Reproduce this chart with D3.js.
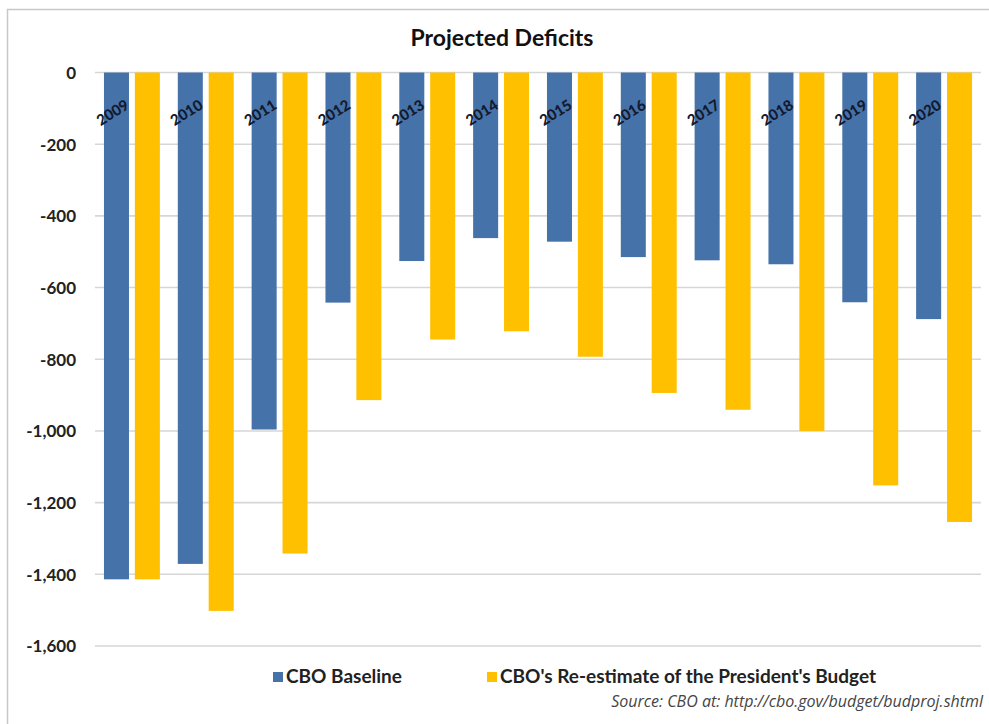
<!DOCTYPE html>
<html>
<head>
<meta charset="utf-8">
<script src="https://cdn.jsdelivr.net/npm/d3@7"></script>
<style>
  html, body { margin: 0; padding: 0; background: #ffffff; }
  svg { display: block; }
</style>
</head>
<body>
<svg id="chart" width="989" height="724"></svg>
<script>
// Fiscal years on the category axis
const years = ["2009", "2010", "2011", "2012", "2013", "2014", "2015", "2016", "2017", "2018", "2019", "2020"];
// Series names (legend order)
const seriesNames = ["CBO Baseline", "CBO's Re-estimate of the President's Budget"];
// Deficits, billions of dollars
const baseline = [-1414, -1371, -996, -642, -526, -462, -472, -515, -524, -535, -641, -688];
const reestimate = [-1414, -1502, -1342, -914, -745, -722, -793, -894, -941, -1000, -1152, -1254];
// Value axis ticks
const yTicks = [0, -200, -400, -600, -800, -1000, -1200, -1400, -1600];

const colors = ["#4672aa", "#ffc000"];
const values = [baseline, reestimate];

const svg = d3.select("#chart");
const font = "Lato, 'Open Sans', sans-serif";

// Outer frame
svg.append("line").attr("x1", 7).attr("x2", 989).attr("y1", 9.5).attr("y2", 9.5)
  .attr("stroke", "#c8c8c8").attr("stroke-width", 1.5);
svg.append("line").attr("x1", 7.5).attr("x2", 7.5).attr("y1", 9).attr("y2", 724)
  .attr("stroke", "#c8c8c8").attr("stroke-width", 1.5);

const plot = { left: 95, right: 981, top: 72.5, bottom: 646 };

const y = d3.scaleLinear().domain([0, -1600]).range([plot.top, plot.bottom]);
const x0 = d3.scaleBand().domain(years).range([plot.left, plot.right]).padding(0);
const x1 = d3.scaleBand().domain(seriesNames).range([0, x0.bandwidth()])
  .paddingInner(0.19).paddingOuter(0.29);

// Horizontal gridlines
svg.append("g").selectAll("line").data(yTicks).join("line")
  .attr("x1", plot.left).attr("x2", plot.right)
  .attr("y1", d => y(d)).attr("y2", d => y(d))
  .attr("stroke", "#d6d6d6").attr("stroke-width", 1.6);

// Value axis labels (plain hyphen for negatives, comma thousands)
const commas = d3.format(",");
const yAxis = d3.axisLeft(y).tickValues(yTicks).tickSize(0).tickPadding(0)
  .tickFormat(d => (d < 0 ? "-" : "") + commas(Math.abs(d)));
const gy = svg.append("g").attr("transform", `translate(76,0)`).call(yAxis);
gy.select(".domain").remove();
gy.selectAll("text").attr("font-family", font).attr("font-weight", "bold")
  .attr("font-size", 17).attr("fill", "#222").attr("dy", "0.35em");

// Bars
const groups = svg.append("g").selectAll("g").data(years).join("g")
  .attr("transform", d => `translate(${x0(d)},0)`);
groups.selectAll("rect")
  .data((d, i) => seriesNames.map((s, k) => ({ s, k, v: values[k][i] })))
  .join("rect")
  .attr("x", d => x1(d.s))
  .attr("width", x1.bandwidth())
  .attr("y", d => y(0))
  .attr("height", d => y(d.v) - y(0))
  .attr("fill", d => colors[d.k]);

// Category labels, slanted, sitting over the baseline bars
svg.append("g").selectAll("text").data(years).join("text")
  .attr("transform", d => `translate(${x0(d) + x1(seriesNames[0]) + x1.bandwidth() / 2 - 1},${117}) rotate(-32)`)
  .attr("text-anchor", "middle")
  .attr("font-family", font).attr("font-weight", "900").attr("font-size", 15)
  .attr("fill", "#141a2e")
  .text(d => d);

// Title
svg.append("text").attr("x", 502).attr("y", 46).attr("text-anchor", "middle")
  .attr("font-family", font).attr("font-weight", "bold").attr("font-size", 23)
  .attr("fill", "#111").text("Projected Deficits");

// Legend
const legendX = [273, 487];
const legend = svg.append("g").selectAll("g").data(seriesNames).join("g")
  .attr("transform", (d, i) => `translate(${legendX[i]},672)`);
legend.append("rect").attr("width", 10).attr("height", 10).attr("fill", (d, i) => colors[i]);
legend.append("text").attr("x", 13).attr("y", 11)
  .attr("font-family", font).attr("font-weight", "bold").attr("font-size", 19)
  .attr("fill", "#222").text(d => d);

// Source note
svg.append("text").attr("x", 983).attr("y", 707).attr("text-anchor", "end")
  .attr("font-family", "'Open Sans', sans-serif").attr("font-style", "italic")
  .attr("font-size", 16).attr("fill", "#444")
  .text("Source: CBO at: http://cbo.gov/budget/budproj.shtml");
</script>
</body>
</html>
